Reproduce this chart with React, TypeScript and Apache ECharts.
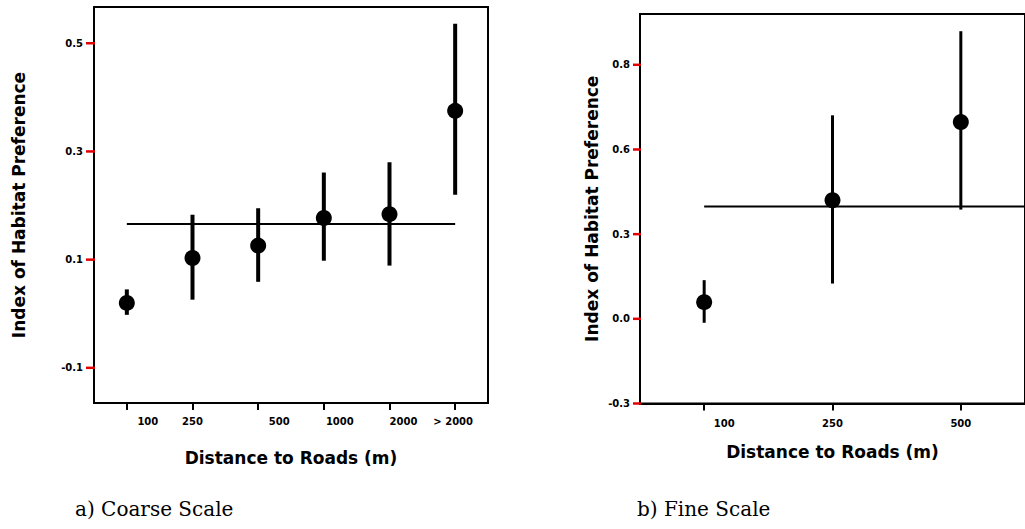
import React, { useEffect, useRef } from "react";
import * as echarts from "echarts";

// ---- Data ----
const coarseCategories = ["100", "250", "500", "1000", "2000", "> 2000"];
const coarseMeans = [0.02, 0.103, 0.126, 0.177, 0.184, 0.375];
const coarseLow = [-0.002, 0.026, 0.059, 0.098, 0.089, 0.22];
const coarseHigh = [0.045, 0.183, 0.195, 0.261, 0.28, 0.536];
const coarseOverall = 0.166; // horizontal reference line
const coarseLineFrom = 0; // category index
const coarseLineTo = 5; // category index
const coarseTickValues = [-0.1, 0.1, 0.3, 0.5];
const coarseTickLabels = ["-0.1", "0.1", "0.3", "0.5"];

const fineCategories = ["100", "250", "500"];
const fineMeans = [0.059, 0.42, 0.697];
const fineLow = [-0.014, 0.125, 0.387];
const fineHigh = [0.137, 0.721, 1.019];
const fineOverall = 0.398;
const fineLineFrom = 0;
const fineLineTo = -1; // -1: runs to the plot edge
const fineTickValues = [-0.3, 0.0, 0.3, 0.6, 0.9];
const fineTickLabels = ["-0.3", "0.0", "0.3", "0.6", "0.8"];

// label nudges (style, px) as in the scanned figure
const coarseLabelShift = [21, 0, 21, 16, 14, -2];
const fineLabelShift = [20, 0, 0];

const TITLE_FONT = "DejaVu Sans";
const TICK_FONT = "DejaVu Sans";

function richFor(shifts: number[]) {
  const rich: Record<string, any> = {};
  shifts.forEach((s, i) => {
    rich["s" + i] = {
      fontSize: 10,
      fontWeight: "bold",
      fontFamily: TICK_FONT,
      color: "#000",
      padding: s >= 0 ? [0, 0, 0, 2 * s] : [0, -2 * s, 0, 0],
    };
  });
  return rich;
}

function labelFromList(values: number[], labels: string[]) {
  return (v: number) => {
    let best = 0;
    values.forEach((t, i) => {
      if (Math.abs(t - v) < Math.abs(values[best] - v)) best = i;
    });
    return labels[best];
  };
}

function errorBarRender(width: number) {
  return (params: any, api: any) => {
    const x = api.value(0);
    const p1 = api.coord([x, api.value(1)]);
    const p2 = api.coord([x, api.value(2)]);
    return {
      type: "line",
      shape: { x1: p1[0], y1: p1[1], x2: p2[0], y2: p2[1] },
      style: { stroke: "#000", lineWidth: width },
    };
  };
}

function meanLineRender(params: any, api: any) {
  const from = api.value(0);
  const to = api.value(1);
  const y = api.value(2);
  const p1 = api.coord([from, y]);
  const cs = params.coordSys;
  const x2 = to >= 0 ? api.coord([to, y])[0] : cs.x + cs.width;
  return {
    type: "line",
    shape: { x1: p1[0], y1: p1[1], x2, y2: p1[1] },
    style: { stroke: "#000", lineWidth: 2 },
  };
}

// y-axis tick marks, placed through the axis scale
function yTickRender(len: number) {
  return (params: any, api: any) => {
    const cs = params.coordSys;
    const p = api.coord([0, api.value(1)]);
    return {
      type: "line",
      shape: { x1: cs.x - len, y1: p[1], x2: cs.x + 1, y2: p[1] },
      style: { stroke: "#e00000", lineWidth: 2.5 },
    };
  };
}

export default function App() {
  const ref = useRef<HTMLDivElement>(null);

  useEffect(() => {
    if (!ref.current) return;
    const chart = echarts.init(ref.current, undefined, { renderer: "svg" });

    const axisNameStyle = {
      fontFamily: TITLE_FONT,
      fontWeight: "bold" as const,
      fontSize: 17,
      color: "#000",
    };

    const xAxisCommon = (cats: string[], shifts: number[], margin: number) => ({
      type: "category" as const,
      data: cats,
      boundaryGap: true,
      axisLine: { show: true, onZero: false, lineStyle: { color: "#000", width: 2 } },
      axisTick: { show: true, inside: false, alignWithLabel: true, length: 7, lineStyle: { color: "#000", width: 2 } },
      axisLabel: {
        margin,
        interval: 0,
        formatter: (v: string, i: number) => `{s${i}|${v}}`,
        rich: richFor(shifts),
      },
      splitLine: { show: false },
      name: "Distance to Roads (m)",
      nameLocation: "middle" as const,
      nameTextStyle: axisNameStyle,
    });

    const option: any = {
      animation: false,
      backgroundColor: "#fff",
      grid: [
        { left: 94, top: 7, width: 394, height: 396, show: true, borderColor: "#000", borderWidth: 2, backgroundColor: "transparent" },
        { left: 640, top: 14, width: 388.5, height: 389.5, show: true, borderColor: "#000", borderWidth: 2, backgroundColor: "transparent" },
      ],
      xAxis: [
        { ...xAxisCommon(coarseCategories, coarseLabelShift, 13), gridIndex: 0, nameGap: 46 },
        { ...xAxisCommon(fineCategories, fineLabelShift, 15), gridIndex: 1, nameGap: 40 },
      ],
      yAxis: [
        {
          type: "value",
          gridIndex: 0,
          min: -0.165,
          max: 0.567,
          axisLine: { show: true, onZero: false, lineStyle: { color: "#000", width: 2 } },
          axisTick: { show: false },
          axisLabel: {
            customValues: coarseTickValues,
            formatter: labelFromList(coarseTickValues, coarseTickLabels),
            margin: 11,
            fontSize: 10,
            fontWeight: "bold",
            fontFamily: TICK_FONT,
            color: "#000",
          },
          splitLine: { show: false },
          name: "Index of Habitat Preference",
          nameLocation: "middle",
          nameGap: 67,
          nameTextStyle: axisNameStyle,
        },
        {
          type: "value",
          gridIndex: 1,
          min: -0.3,
          max: 1.08,
          axisLine: { show: true, onZero: false, lineStyle: { color: "#000", width: 2 } },
          axisTick: { show: false },
          axisLabel: {
            customValues: fineTickValues,
            formatter: labelFromList(fineTickValues, fineTickLabels),
            margin: 10,
            fontSize: 10,
            fontWeight: "bold",
            fontFamily: TICK_FONT,
            color: "#000",
          },
          splitLine: { show: false },
          name: "Index of Habitat Preference",
          nameLocation: "middle",
          nameGap: 40,
          nameTextStyle: axisNameStyle,
        },
      ],
      series: [
        {
          type: "custom",
          xAxisIndex: 0,
          yAxisIndex: 0,
          clip: false,
          z: 10,
          renderItem: yTickRender(8),
          data: coarseTickValues.map((v) => [0, v]),
          encode: { x: 0, y: 1 },
        },
        {
          type: "custom",
          xAxisIndex: 0,
          yAxisIndex: 0,
          renderItem: meanLineRender,
          data: [[coarseLineFrom, coarseLineTo, coarseOverall]],
          encode: { x: 0, y: 2 },
        },
        {
          type: "custom",
          xAxisIndex: 0,
          yAxisIndex: 0,
          renderItem: errorBarRender(4),
          data: coarseCategories.map((_, i) => [i, coarseLow[i], coarseHigh[i]]),
          encode: { x: 0, y: [1, 2] },
        },
        {
          type: "scatter",
          xAxisIndex: 0,
          yAxisIndex: 0,
          symbolSize: 16,
          itemStyle: { color: "#000", opacity: 1 },
          data: coarseCategories.map((_, i) => [i, coarseMeans[i]]),
        },
        {
          type: "custom",
          xAxisIndex: 1,
          yAxisIndex: 1,
          clip: false,
          z: 10,
          renderItem: yTickRender(7),
          data: fineTickValues.map((v) => [0, v]),
          encode: { x: 0, y: 1 },
        },
        {
          type: "custom",
          xAxisIndex: 1,
          yAxisIndex: 1,
          renderItem: meanLineRender,
          data: [[fineLineFrom, fineLineTo, fineOverall]],
          encode: { x: 0, y: 2 },
        },
        {
          type: "custom",
          xAxisIndex: 1,
          yAxisIndex: 1,
          renderItem: errorBarRender(3),
          data: fineCategories.map((_, i) => [i, fineLow[i], fineHigh[i]]),
          encode: { x: 0, y: [1, 2] },
        },
        {
          type: "scatter",
          xAxisIndex: 1,
          yAxisIndex: 1,
          symbolSize: 16,
          itemStyle: { color: "#000", opacity: 1 },
          data: fineCategories.map((_, i) => [i, fineMeans[i]]),
        },
      ],
      graphic: [
        {
          type: "text",
          left: 75,
          top: 499,
          style: { text: "a) Coarse Scale", fontFamily: "DejaVu Serif", fontSize: 20, fill: "#000" },
        },
        {
          type: "text",
          left: 637,
          top: 499,
          style: { text: "b) Fine Scale", fontFamily: "DejaVu Serif", fontSize: 20, fill: "#000" },
        },
      ],
    };

    chart.setOption(option);
    return () => chart.dispose();
  }, []);

  return (
    <div
      ref={ref}
      style={{ position: "absolute", left: 0, top: 0, width: 1025, height: 529, background: "#fff" }}
    />
  );
}
